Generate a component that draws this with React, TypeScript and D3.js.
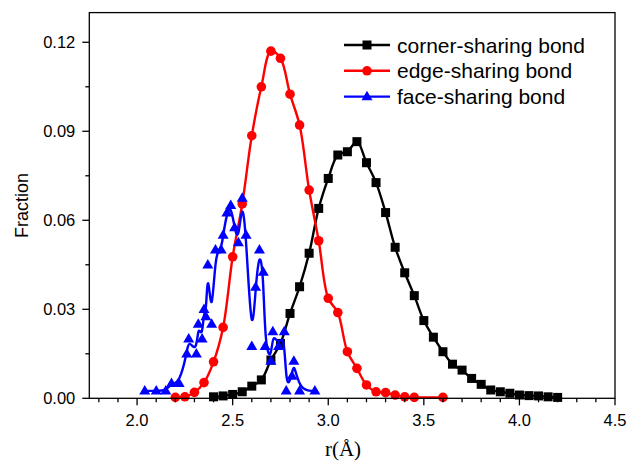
import React from "react";
import * as d3 from "d3";

const cornerX = [2.4, 2.45, 2.5, 2.55, 2.6, 2.65, 2.7, 2.75, 2.8, 2.85, 2.9, 2.95, 3.0, 3.05, 3.1, 3.15, 3.2, 3.25, 3.3, 3.35, 3.4, 3.45, 3.5, 3.55, 3.6, 3.65, 3.7, 3.75, 3.8, 3.85, 3.9, 3.95, 4.0, 4.05, 4.1, 4.15, 4.2];
const cornerY = [0.0005, 0.0008, 0.0013, 0.0022, 0.0041, 0.0062, 0.0129, 0.0185, 0.0286, 0.0376, 0.0489, 0.064, 0.0741, 0.082, 0.0831, 0.0865, 0.0794, 0.0727, 0.0626, 0.0509, 0.0423, 0.0346, 0.0262, 0.0206, 0.0157, 0.0115, 0.0095, 0.0067, 0.0047, 0.0028, 0.0022, 0.0017, 0.0011, 0.0009, 0.0008, 0.0005, 0.0003];

const edgeX = [2.2, 2.25, 2.3, 2.35, 2.4, 2.45, 2.5, 2.55, 2.6, 2.65, 2.7, 2.75, 2.8, 2.85, 2.9, 2.95, 3.0, 3.05, 3.1, 3.15, 3.2, 3.25, 3.3, 3.35, 3.4, 3.45, 3.6];
const edgeY = [0.0003, 0.0005, 0.002, 0.0053, 0.0123, 0.0239, 0.0477, 0.0655, 0.0885, 0.105, 0.117, 0.1146, 0.1025, 0.0921, 0.0702, 0.0531, 0.0337, 0.0289, 0.0157, 0.0101, 0.0045, 0.0022, 0.0019, 0.0011, 0.0005, 0.0003, 0.0003];

const faceX = [2.04, 2.10, 2.15, 2.18, 2.22, 2.26, 2.27, 2.31, 2.32, 2.34, 2.35, 2.36, 2.37, 2.39, 2.41, 2.44, 2.45, 2.47, 2.49, 2.51, 2.53, 2.55, 2.57, 2.6, 2.62, 2.64, 2.66, 2.67, 2.7, 2.71, 2.74, 2.77, 2.78, 2.81, 2.82, 2.85, 2.93];
const faceY = [0.0025, 0.0025, 0.0025, 0.005, 0.005, 0.015, 0.02, 0.015, 0.025, 0.02, 0.03, 0.0275, 0.045, 0.025, 0.05, 0.05, 0.055, 0.0625, 0.065, 0.0575, 0.0525, 0.0675, 0.055, 0.0175, 0.0375, 0.05, 0.0425, 0.0175, 0.0125, 0.0225, 0.0175, 0.0225, 0.0025, 0.0075, 0.0125, 0.0025, 0.0025];

const seriesNames = ["corner-sharing bond", "edge-sharing bond", "face-sharing bond"];
const seriesColors = ["#000000", "#ff0000", "#0000ff"];

const xMajor = [2.0, 2.5, 3.0, 3.5, 4.0, 4.5];
const xMinor = [1.8, 1.9, 2.1, 2.2, 2.3, 2.4, 2.6, 2.7, 2.8, 2.9, 3.1, 3.2, 3.3, 3.4, 3.6, 3.7, 3.8, 3.9, 4.1, 4.2, 4.3, 4.4];
const yMajor = [0, 0.03, 0.06, 0.09, 0.12];
const yMinor = [0.015, 0.045, 0.075, 0.105];

const W = 630, H = 461;
const L = 89.3, R = 615, T = 12.6, B = 398.3;

const x = d3.scaleLinear().domain([1.75, 4.5]).range([L, R]);
const y = d3.scaleLinear().domain([0, 0.13]).range([B, T]);

const font = "Arial, 'Liberation Sans', Helvetica, sans-serif";

function Marker({ kind, cx, cy, color }: { kind: number; cx: number; cy: number; color: string }) {
  if (kind === 0) return <rect x={cx - 4.5} y={cy - 4.5} width={9} height={9} fill={color} />;
  if (kind === 1) return <circle cx={cx} cy={cy} r={4.8} fill={color} />;
  const s = 11;
  const h = s * 0.866;
  return <path d={`M${cx},${cy - h * 0.62} L${cx + s / 2},${cy + h * 0.38} L${cx - s / 2},${cy + h * 0.38} Z`} fill={color} />;
}

export default function App() {
  const data = [
    cornerX.map((v, i) => [v, cornerY[i]] as [number, number]),
    edgeX.map((v, i) => [v, edgeY[i]] as [number, number]),
    faceX.map((v, i) => [v, faceY[i]] as [number, number]),
  ];
  const curves = [d3.curveCatmullRom.alpha(0.5), d3.curveCatmullRom.alpha(0.5), d3.curveBasis];
  const fmt = d3.format(".2f");
  const fmtX = d3.format(".1f");
  return (
    <svg width={W} height={H} style={{ position: "absolute", left: 0, top: 0, background: "#fff" }} fontFamily={font}>
      <rect x={0} y={0} width={W} height={H} fill="#fff" />
      {data.map((d, si) => {
        const line = d3.line<[number, number]>().x((p) => x(p[0])).y((p) => y(p[1])).curve(curves[si]);
        return (
          <g key={si}>
            <path d={line(d) || ""} fill="none" stroke={seriesColors[si]} strokeWidth={2.4} strokeLinejoin="round" />
            {d.map((p, i) => (
              <Marker key={i} kind={si} cx={x(p[0])} cy={y(p[1])} color={seriesColors[si]} />
            ))}
          </g>
        );
      })}
      <rect x={L} y={T} width={R - L} height={B - T} fill="none" stroke="#000" strokeWidth={1.3} />
      {xMajor.map((v) => (
        <g key={"xM" + v}>
          <line x1={x(v)} x2={x(v)} y1={B} y2={B + 7} stroke="#000" strokeWidth={1.3} />
          <text x={x(v)} y={B + 28} textAnchor="middle" fontSize={16.5}>{fmtX(v)}</text>
        </g>
      ))}
      {xMinor.map((v) => (
        <line key={"xm" + v} x1={x(v)} x2={x(v)} y1={B} y2={B + 4} stroke="#000" strokeWidth={1.3} />
      ))}
      {yMajor.map((v) => (
        <g key={"yM" + v}>
          <line x1={L - 7} x2={L} y1={y(v)} y2={y(v)} stroke="#000" strokeWidth={1.3} />
          <text x={L - 14} y={y(v) + 6} textAnchor="end" fontSize={16.5}>{fmt(v)}</text>
        </g>
      ))}
      {yMinor.map((v) => (
        <line key={"ym" + v} x1={L - 4} x2={L} y1={y(v)} y2={y(v)} stroke="#000" strokeWidth={1.3} />
      ))}
      <text x={343} y={456} textAnchor="middle" fontSize={21} fontFamily="'Liberation Serif', 'Times New Roman', serif">r(Å)</text>
      <text transform={`translate(28,${(T + B) / 2}) rotate(-90)`} textAnchor="middle" fontSize={18}>Fraction</text>
      {seriesNames.map((n, i) => {
        const ly = 45 + i * 25.8;
        return (
          <g key={n}>
            <line x1={344} x2={390} y1={ly} y2={ly} stroke={seriesColors[i]} strokeWidth={2.4} />
            <Marker kind={i} cx={367} cy={ly} color={seriesColors[i]} />
            <text x={397} y={ly + 7.5} fontSize={21}>{n}</text>
          </g>
        );
      })}
    </svg>
  );
}
